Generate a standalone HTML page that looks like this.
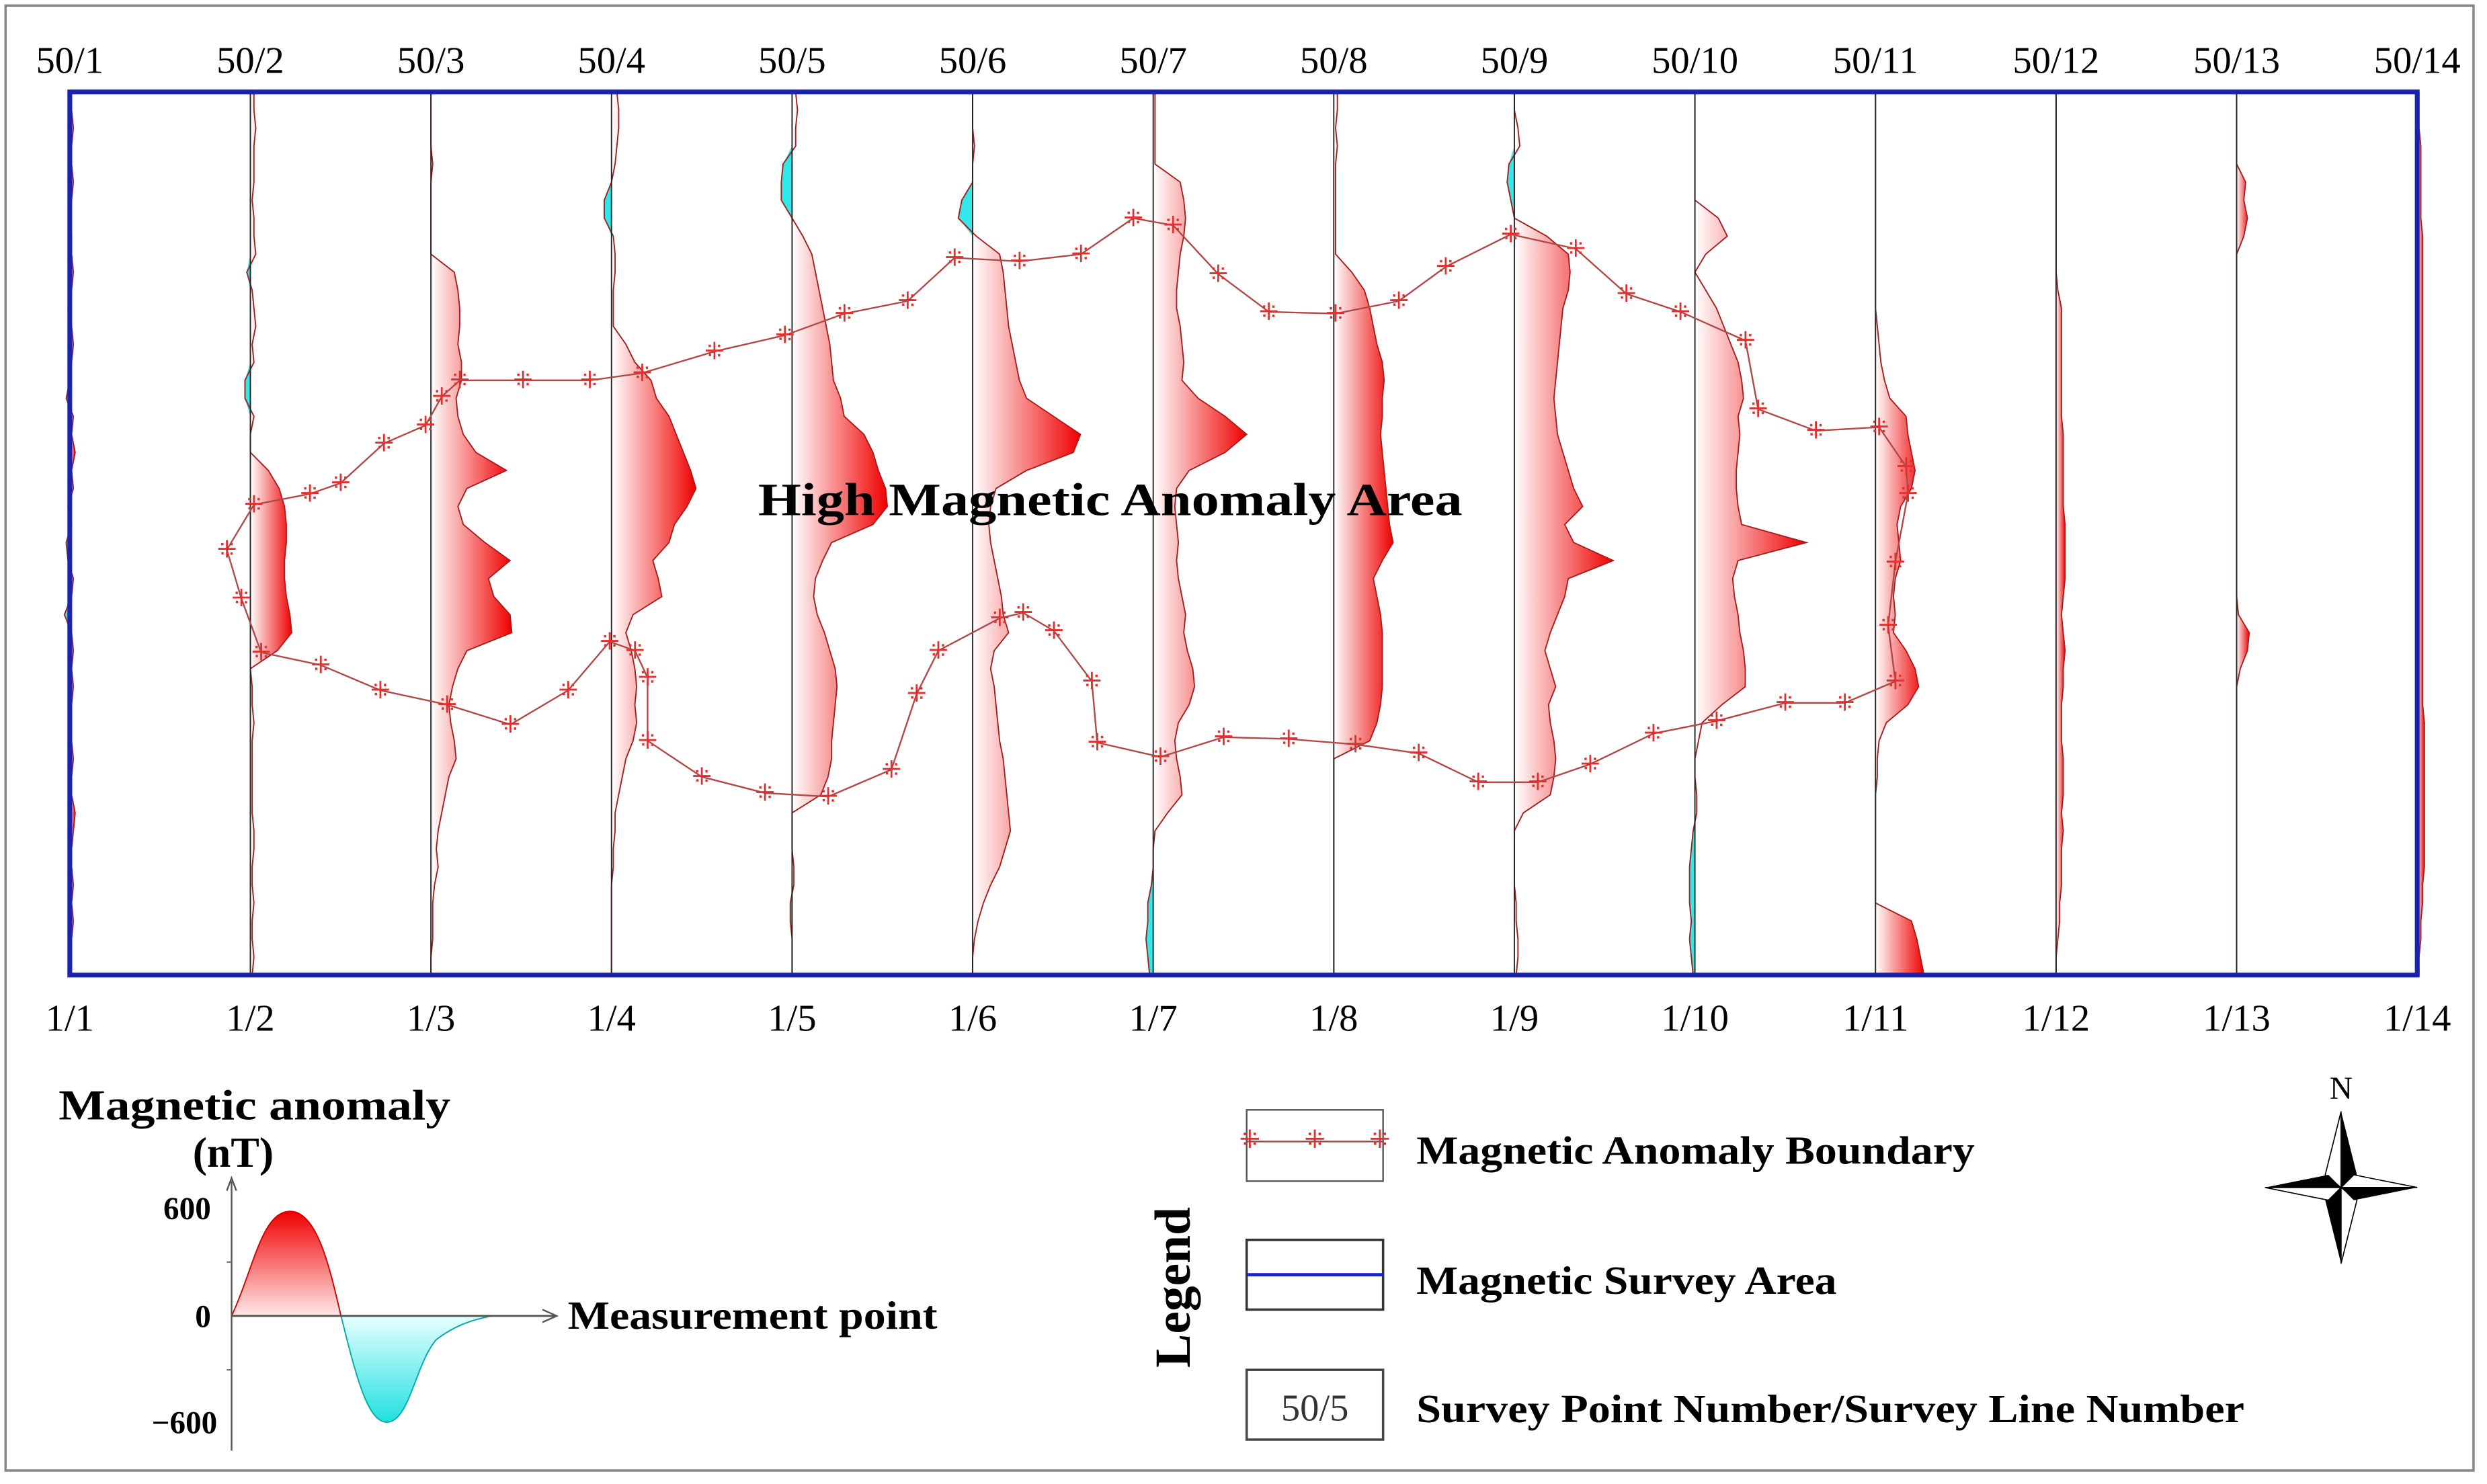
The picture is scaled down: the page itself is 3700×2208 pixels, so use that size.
<!DOCTYPE html>
<html><head><meta charset="utf-8"><style>
html,body{margin:0;padding:0;background:#fff;}
svg{display:block;}
text{font-family:"Liberation Serif",serif;}
</style></head><body>
<svg id="chart" xmlns="http://www.w3.org/2000/svg" width="3700" height="2208" viewBox="0 0 1568 936" preserveAspectRatio="none">
<defs>
<linearGradient id="rg" x1="0" y1="0" x2="1" y2="0"><stop offset="0" stop-color="#ffffff"/><stop offset="1" stop-color="#f00000"/></linearGradient>
<linearGradient id="rgv" x1="0" y1="1" x2="0" y2="0"><stop offset="0" stop-color="#ffe8e8"/><stop offset="1" stop-color="#f00000"/></linearGradient>
<linearGradient id="cgv" x1="0" y1="0" x2="0" y2="1"><stop offset="0" stop-color="#e8ffff"/><stop offset="1" stop-color="#20e0e0"/></linearGradient>
</defs>
<rect x="3.5" y="3.5" width="1556" height="924" fill="none" stroke="#888" stroke-width="1.5"/>
<g id="profiles"></g>
<g id="lines"></g>
<g id="boundary"></g>
<rect x="44" y="58" width="1480" height="557" fill="none" stroke="#1a22b0" stroke-width="3"/>
<g id="labels"></g>
<text x="478" y="325" font-size="29" font-weight="bold" textLength="444" lengthAdjust="spacingAndGlyphs">High Magnetic Anomaly Area</text>

<g>
<text x="37" y="706" font-size="27" font-weight="bold" textLength="247" lengthAdjust="spacingAndGlyphs">Magnetic anomaly</text>
<text x="147" y="736" font-size="27" font-weight="bold" text-anchor="middle">(nT)</text>
<path d="M146,830 C160,800 165,764 183,764 C200,764 208,800 215,830 Z" fill="url(#rgv)" stroke="#c00" stroke-width="0.8"/>
<path d="M215,830 C225,870 232,897 244,897 C258,897 262,860 275,845 C288,835 300,832 310,830 Z" fill="url(#cgv)" stroke="#0aa" stroke-width="0.8"/>
<line x1="146" y1="915" x2="146" y2="745" stroke="#555" stroke-width="1"/>
<path d="M143,751 L146,743 L149,751" fill="none" stroke="#555"/>
<line x1="146" y1="830" x2="350" y2="830" stroke="#555" stroke-width="1.2"/>
<path d="M342,826 L351,830 L342,834" fill="none" stroke="#555"/>
<text x="133" y="769" font-size="20" font-weight="bold" text-anchor="end">600</text>
<text x="133" y="837" font-size="20" font-weight="bold" text-anchor="end">0</text>
<text x="137" y="904" font-size="20" font-weight="bold" text-anchor="end">−600</text>
<line x1="143" y1="796" x2="146" y2="796" stroke="#777"/><line x1="143" y1="864" x2="146" y2="864" stroke="#777"/>
<text x="358" y="838" font-size="25" font-weight="bold" textLength="233" lengthAdjust="spacingAndGlyphs">Measurement point</text>
</g>

<g>
<text transform="translate(750,812) rotate(-90)" font-size="32" font-weight="bold" text-anchor="middle">Legend</text>
<rect x="786" y="700" width="86" height="45" fill="#fff" stroke="#555" stroke-width="1"/>
<line x1="786" y1="720" x2="872" y2="720" stroke="#b04040" stroke-width="1"/>
<text x="788" y="724" font-size="16" fill="#e03030" text-anchor="middle">⁜</text>
<text x="829" y="724" font-size="16" fill="#e03030" text-anchor="middle">⁜</text>
<text x="870" y="724" font-size="16" fill="#e03030" text-anchor="middle">⁜</text>
<text x="893" y="734" font-size="25" font-weight="bold" textLength="352" lengthAdjust="spacingAndGlyphs">Magnetic Anomaly Boundary</text>
<rect x="786" y="782" width="86" height="44" fill="#fff" stroke="#333" stroke-width="1.5"/>
<line x1="786" y1="804" x2="872" y2="804" stroke="#1a22d0" stroke-width="2"/>
<text x="893" y="816" font-size="25" font-weight="bold" textLength="265" lengthAdjust="spacingAndGlyphs">Magnetic Survey Area</text>
<rect x="786" y="864" width="86" height="44" fill="#fff" stroke="#444" stroke-width="1.5"/>
<text x="829" y="896" font-size="24" fill="#333" text-anchor="middle">50/5</text>
<text x="893" y="897" font-size="25" font-weight="bold" textLength="522" lengthAdjust="spacingAndGlyphs">Survey Point Number/Survey Line Number</text>
</g>

<g>
<text x="1476" y="693" font-size="20" text-anchor="middle">N</text>
<polygon points="1476,701 1486,741 1476,749" fill="#000"/>
<polygon points="1476,701 1466,741 1476,749" fill="#fff" stroke="#000" stroke-width="0.7"/>
<polygon points="1476,797 1466,757 1476,749" fill="#000"/>
<polygon points="1476,797 1486,757 1476,749" fill="#fff" stroke="#000" stroke-width="0.7"/>
<polygon points="1428,749 1468,741 1476,749" fill="#000"/>
<polygon points="1428,749 1468,757 1476,749" fill="#fff" stroke="#000" stroke-width="0.7"/>
<polygon points="1524,749 1484,757 1476,749" fill="#000"/>
<polygon points="1524,749 1484,741 1476,749" fill="#fff" stroke="#000" stroke-width="0.7"/>
</g>
</svg>
<script>
// ---- data ----
const lineNumbers = [1,2,3,4,5,6,7,8,9,10,11,12,13,14];
const topPoint = 50, bottomPoint = 1;
// anomaly values (nT) per line, listed from point 50 (top) down to point 1 (bottom)
const line1 = [10,10,20,10,10,20,10,0,10,10,20,10,-10,10,20,10,0,-20,20,10,30,10,20,-10,10,-20,-10,20,10,-30,10,20,10,20,10,10,10,20,10,10,30,20,10,10,20,10,20,10,10,10];
const line2 = [20,20,30,20,20,20,10,20,20,30,-20,10,20,30,10,20,-30,-30,20,0,0,100,160,190,200,200,190,190,200,220,230,150,0,10,10,20,10,10,10,10,10,20,20,10,10,20,10,10,20,10];
const line3 = [0,0,0,0,10,0,0,0,0,0,130,150,160,160,150,170,170,140,150,180,250,420,200,150,180,300,440,320,350,440,450,200,150,120,100,110,130,140,100,80,60,40,30,40,20,10,10,10,0,0];
const line4 = [30,40,40,30,20,0,-40,-40,10,20,20,10,10,10,80,130,220,250,320,360,400,440,470,420,350,320,230,260,280,120,80,110,130,140,130,140,120,80,60,40,20,20,10,10,0,0,0,0,0,0];
const line5 = [20,30,20,20,-50,-60,-60,0,60,110,130,150,170,190,210,220,230,270,290,400,450,480,520,530,450,220,170,130,120,140,180,210,240,250,240,230,220,220,200,160,0,0,0,10,10,-10,-10,0,0,0];
const line6 = [0,0,0,10,0,0,-60,-80,20,150,170,180,190,200,220,240,260,300,450,600,560,300,130,100,90,100,120,140,160,170,200,120,100,120,130,140,150,170,180,190,200,210,180,150,100,60,30,10,0,0];
const line7 = [10,10,10,10,10,150,170,180,170,150,140,130,130,150,160,170,160,250,400,520,400,200,130,120,130,140,130,140,160,180,170,190,220,230,200,140,120,130,150,160,80,10,0,0,-10,-30,-30,-40,-30,-20];
const line8 = [20,20,10,20,10,10,10,10,10,10,100,170,200,220,240,270,280,270,270,260,270,280,290,300,310,330,270,220,240,260,270,270,270,270,260,240,200,0,0,0,0,0,0,0,0,0,0,0,0,0];
const line9 = [0,0,20,30,-30,-40,-20,0,180,300,310,300,270,260,250,240,230,220,230,240,270,300,330,380,280,330,550,300,280,240,200,170,200,230,190,200,220,230,220,200,50,0,0,0,0,10,10,20,20,10];
const line10 = [0,0,0,0,0,0,0,130,180,60,0,60,120,160,200,240,260,270,240,250,240,230,230,240,260,620,240,210,220,240,250,270,280,280,150,40,20,0,0,10,10,-10,-20,-30,-30,-30,-20,-30,-20,-10];
const line11 = [0,0,0,0,0,0,0,0,0,0,0,0,0,10,20,30,50,80,170,180,200,220,200,140,120,130,140,110,100,110,100,170,220,240,180,60,20,10,10,0,0,0,0,0,0,0,200,230,250,270];
const line12 = [0,0,0,0,0,0,0,0,0,0,0,10,30,30,30,30,30,30,30,40,40,40,40,40,50,50,50,50,40,30,40,50,40,40,30,30,30,40,40,40,30,40,30,30,30,20,20,10,0,0];
const line13 = [0,0,0,0,0,50,40,60,40,0,0,0,0,0,0,0,0,0,0,0,0,0,0,0,0,0,0,0,0,10,70,60,20,0,0,0,0,0,0,0,0,0,0,0,0,0,0,0,0,0];
const line14 = [10,10,10,20,20,20,20,20,30,30,30,30,30,30,30,30,30,30,30,30,30,30,30,30,30,30,30,30,30,30,30,30,30,30,30,40,40,40,40,40,40,40,40,40,30,30,20,20,10,10];
const profiles = [line1,line2,line3,line4,line5,line6,line7,line8,line9,line10,line11,line12,line13,line14];
// anomaly boundary in survey-grid units (line number, point number)
const boundaryLine = [1.87,2.02,2.33,2.50,2.74,2.97,3.06,3.16,3.51,3.88,4.17,4.57,4.96,5.29,5.64,5.90,6.26,6.60,6.89,7.11,7.36,7.64,8.01,8.36,8.62,8.98,9.34,9.62,9.92,10.28,10.35,10.67,11.02,11.17,11.18,11.11,11.07,11.11,10.83,10.50,10.12,9.77,9.42,9.13,8.80,8.47,8.12,7.75,7.39,7.04,6.69,6.66,6.45,6.28,6.15,5.81,5.69,5.55,5.20,4.85,4.50,4.20,4.20,4.13,3.99,3.76,3.44,3.09,2.72,2.39,2.06,1.95];
const boundaryPoint = [24.6,27.1,27.7,28.3,30.5,31.5,33.1,34.0,34.0,34.0,34.4,35.6,36.5,37.7,38.4,40.8,40.6,41.0,43.0,42.6,39.9,37.8,37.7,38.4,40.3,42.1,41.3,38.8,37.8,36.2,32.4,31.2,31.4,29.2,27.7,23.9,20.4,17.3,16.1,16.1,15.1,14.4,12.7,11.7,11.7,13.3,13.8,14.1,14.2,13.1,13.9,17.3,20.1,21.1,20.8,19.0,16.6,12.4,10.9,11.1,12.0,14.0,17.5,19.0,19.5,16.8,14.9,16.0,16.8,18.2,18.9,21.9];

// ---- axes ----
const X0=44, X1=1524, Y0=58, Y1=615;
const xLine = n => X0 + (n-1)*(X1-X0)/(lineNumbers.length-1);
const yPoint = p => Y0 + (topPoint-p)*(Y1-Y0)/(topPoint-bottomPoint);
const xVal = v => v*68/600;
const NS='http://www.w3.org/2000/svg';
function mk(tag, attrs, parent){const e=document.createElementNS(NS,tag);for(const k in attrs)e.setAttribute(k,attrs[k]);parent.appendChild(e);return e;}

const gP=document.getElementById('profiles'), gL=document.getElementById('lines'), gB=document.getElementById('boundary'), gT=document.getElementById('labels');
profiles.forEach((vals, li) => {
  const n = lineNumbers[li], bx = xLine(n);
  const pts = vals.map((v,i)=>[bx+xVal(v), yPoint(topPoint-i)]);
  const pos = [[bx,yPoint(topPoint)]].concat(vals.map((v,i)=>[bx+xVal(Math.max(v,0)), yPoint(topPoint-i)])).concat([[bx,yPoint(bottomPoint)]]);
  const neg = [[bx,yPoint(topPoint)]].concat(vals.map((v,i)=>[bx+xVal(Math.min(v,0)), yPoint(topPoint-i)])).concat([[bx,yPoint(bottomPoint)]]);
  const pp = mk('polygon',{points:pos.map(p=>p.join(',')).join(' '),fill:'url(#rg)'},gP);
  
  
  const np = mk('polygon',{points:neg.map(p=>p.join(',')).join(' '),fill:'#30e8e8'},gP);
  
  
  const ol = mk('polyline',{points:pts.map(p=>p.join(',')).join(' '),fill:'none',stroke:'#a02020','stroke-width':0.8},gP);
  
  
  const sl = mk('line',{x1:bx,y1:Y0,x2:bx,y2:Y1,stroke:'#222','stroke-width':0.8},gL);
  
  
  const t1 = mk('text',{x:bx,y:46,'font-size':24,'text-anchor':'middle'},gT);
  t1.textContent='50/'+n;
  
  
  const t2 = mk('text',{x:bx,y:650,'font-size':24,'text-anchor':'middle'},gT);
  t2.textContent='1/'+n;
  
  
});
const bpts = boundaryLine.map((l,i)=>[xLine(l), yPoint(boundaryPoint[i])]);
const bp = mk('polygon',{points:bpts.map(p=>p.join(',')).join(' '),fill:'none',stroke:'#b04848','stroke-width':1,'stroke-linejoin':'round'},gB);


bpts.forEach((p,i)=>{
  const m = mk('text',{x:p[0],y:p[1]+5,'font-size':15,fill:'#e03030','text-anchor':'middle'},gB);
  m.textContent='⁜';
  
  
});
</script>
</body></html>
